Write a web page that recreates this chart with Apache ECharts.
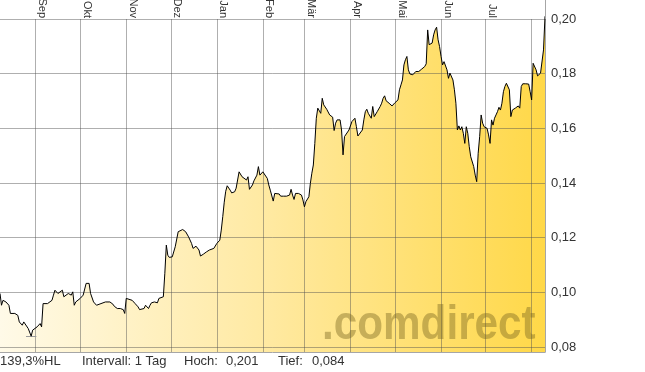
<!DOCTYPE html>
<html>
<head>
<meta charset="utf-8">
<script src="https://cdn.jsdelivr.net/npm/echarts@6/dist/echarts.min.js"></script>
<style>
html,body{margin:0;padding:0;background:#fff;}
#chart{width:645px;height:372px;}
</style>
</head>
<body>
<div id="chart"></div>
<script>
// ---- data ----
const dates = [
"2022-08-08","2022-08-09","2022-08-10","2022-08-12","2022-08-14","2022-08-15","2022-08-16","2022-08-18","2022-08-20","2022-08-21",
"2022-08-23","2022-08-24","2022-08-25","2022-08-27","2022-08-28","2022-08-29","2022-08-30","2022-09-02","2022-09-03","2022-09-04",
"2022-09-05","2022-09-06","2022-09-07","2022-09-09","2022-09-10","2022-09-12","2022-09-13","2022-09-14","2022-09-16","2022-09-17",
"2022-09-19","2022-09-20","2022-09-21","2022-09-23","2022-09-25","2022-09-26","2022-09-27","2022-09-28","2022-09-29","2022-10-01",
"2022-10-02","2022-10-03","2022-10-04","2022-10-05","2022-10-07","2022-10-08","2022-10-10","2022-10-12","2022-10-13","2022-10-15",
"2022-10-16","2022-10-18","2022-10-19","2022-10-21","2022-10-23","2022-10-24","2022-10-26","2022-10-28","2022-10-30","2022-10-31",
"2022-11-01","2022-11-02","2022-11-05","2022-11-07","2022-11-09","2022-11-10","2022-11-11","2022-11-13","2022-11-14","2022-11-15",
"2022-11-16","2022-11-17","2022-11-18","2022-11-19","2022-11-20","2022-11-22","2022-11-23","2022-11-24","2022-11-26","2022-11-27",
"2022-11-28","2022-11-29","2022-11-30","2022-12-02","2022-12-04","2022-12-06","2022-12-07","2022-12-09","2022-12-11","2022-12-13",
"2022-12-15","2022-12-16","2022-12-18","2022-12-19","2022-12-20","2022-12-21","2022-12-23","2022-12-25","2022-12-27","2022-12-30",
"2023-01-01","2023-01-03","2023-01-04","2023-01-05","2023-01-06","2023-01-07","2023-01-08","2023-01-09","2023-01-10","2023-01-11",
"2023-01-13","2023-01-14","2023-01-16","2023-01-18","2023-01-19","2023-01-21","2023-01-22","2023-01-23","2023-01-25","2023-01-26",
"2023-01-28","2023-01-29","2023-01-30","2023-01-31","2023-02-01","2023-02-04","2023-02-05","2023-02-06","2023-02-08","2023-02-09",
"2023-02-10","2023-02-12","2023-02-13","2023-02-15","2023-02-17","2023-02-19","2023-02-20","2023-02-21","2023-02-22","2023-02-23",
"2023-02-25","2023-02-27","2023-02-28","2023-03-01","2023-03-02","2023-03-04","2023-03-05","2023-03-06","2023-03-07","2023-03-08",
"2023-03-09","2023-03-10","2023-03-11","2023-03-12","2023-03-13","2023-03-14","2023-03-16","2023-03-18","2023-03-20","2023-03-21",
"2023-03-22","2023-03-23","2023-03-25","2023-03-26","2023-03-27","2023-03-28","2023-03-31","2023-04-02","2023-04-04","2023-04-05",
"2023-04-06","2023-04-07","2023-04-09","2023-04-10","2023-04-11","2023-04-12","2023-04-13","2023-04-15","2023-04-16","2023-04-17",
"2023-04-18","2023-04-19","2023-04-21","2023-04-22","2023-04-23","2023-04-24","2023-04-25","2023-04-27","2023-04-28","2023-04-29",
"2023-04-30","2023-05-01","2023-05-03","2023-05-04","2023-05-05","2023-05-06","2023-05-07","2023-05-08","2023-05-09","2023-05-10",
"2023-05-11","2023-05-13","2023-05-14","2023-05-15","2023-05-16","2023-05-17","2023-05-19","2023-05-21","2023-05-22","2023-05-23",
"2023-05-24","2023-05-25","2023-05-26","2023-05-27","2023-05-28","2023-05-29","2023-05-30","2023-05-31","2023-06-01","2023-06-02",
"2023-06-03","2023-06-04","2023-06-05","2023-06-06","2023-06-07","2023-06-08","2023-06-09","2023-06-10","2023-06-11","2023-06-12",
"2023-06-13","2023-06-14","2023-06-15","2023-06-16","2023-06-17","2023-06-18","2023-06-19","2023-06-20","2023-06-21","2023-06-23",
"2023-06-24","2023-06-25","2023-06-26","2023-06-27","2023-06-28","2023-06-29","2023-06-30","2023-07-01","2023-07-02","2023-07-03",
"2023-07-04","2023-07-05","2023-07-06","2023-07-07","2023-07-08","2023-07-09","2023-07-10","2023-07-11","2023-07-12","2023-07-13",
"2023-07-14","2023-07-15","2023-07-16","2023-07-17","2023-07-18","2023-07-19","2023-07-20","2023-07-21","2023-07-23","2023-07-24",
"2023-07-25","2023-07-26","2023-07-28","2023-07-30","2023-07-31","2023-08-01","2023-08-02","2023-08-03","2023-08-04","2023-08-05",
"2023-08-07","2023-08-08","2023-08-09","2023-08-10"
];
const prices = [
0.0996,0.0953,0.0971,0.0965,0.0953,0.0923,0.0916,0.0923,0.0916,0.0892,
0.0880,0.0892,0.0886,0.0868,0.0862,0.0840,0.0862,0.0874,0.0880,0.0886,
0.0874,0.0959,0.0965,0.0959,0.0953,0.0971,0.0990,0.1008,0.0996,0.0990,
0.1008,0.0984,0.0990,0.0996,0.0990,0.1002,0.0953,0.0965,0.0971,0.0978,
0.0984,0.0990,0.0996,0.1033,0.1033,0.0996,0.0965,0.0953,0.0953,0.0959,
0.0965,0.0965,0.0971,0.0965,0.0957,0.0949,0.0941,0.0941,0.0937,0.0923,
0.0978,0.0981,0.0971,0.0959,0.0947,0.0937,0.0932,0.0941,0.0953,0.0959,
0.0941,0.0953,0.0962,0.0959,0.0965,0.0962,0.0978,0.0981,0.0984,0.1070,
0.1173,0.1136,0.1128,0.1130,0.1167,0.1222,0.1228,0.1230,0.1222,0.1203,
0.1179,0.1161,0.1169,0.1169,0.1155,0.1133,0.1140,0.1148,0.1155,0.1161,
0.1179,0.1191,0.1228,0.1277,0.1330,0.1370,0.1390,0.1393,0.1374,0.1364,
0.1368,0.1381,0.1441,0.1423,0.1417,0.1411,0.1423,0.1377,0.1393,0.1408,
0.1429,0.1460,0.1429,0.1423,0.1441,0.1417,0.1393,0.1374,0.1334,0.1362,
0.1356,0.1360,0.1352,0.1352,0.1352,0.1356,0.1377,0.1356,0.1340,0.1362,
0.1362,0.1356,0.1338,0.1313,0.1332,0.1350,0.1399,0.1436,0.1466,0.1545,
0.1637,0.1674,0.1680,0.1655,0.1710,0.1686,0.1670,0.1649,0.1641,0.1592,
0.1619,0.1631,0.1631,0.1594,0.1503,0.1570,0.1594,0.1625,0.1637,0.1606,
0.1572,0.1576,0.1594,0.1631,0.1661,0.1670,0.1655,0.1637,0.1680,0.1643,
0.1643,0.1661,0.1680,0.1692,0.1710,0.1719,0.1701,0.1692,0.1686,0.1682,
0.1686,0.1694,0.1704,0.1741,0.1759,0.1777,0.1832,0.1851,0.1863,0.1814,
0.1799,0.1796,0.1792,0.1808,0.1802,0.1808,0.1817,0.1826,0.1836,0.1960,
0.1906,0.1899,0.1912,0.1942,0.1960,0.1970,0.1924,0.1899,0.1863,0.1832,
0.1844,0.1851,0.1814,0.1783,0.1802,0.1808,0.1777,0.1741,0.1692,0.1594,
0.1609,0.1594,0.1606,0.1582,0.1545,0.1606,0.1582,0.1533,0.1496,0.1460,
0.1429,0.1405,0.1509,0.1570,0.1649,0.1619,0.1606,0.1609,0.1600,0.1576,
0.1545,0.1631,0.1612,0.1637,0.1649,0.1661,0.1677,0.1667,0.1692,0.1734,
0.1753,0.1765,0.1771,0.1741,0.1643,0.1667,0.1670,0.1674,0.1682,0.1674,
0.1753,0.1763,0.1763,0.1762,0.1734,0.1704,0.1838,0.1841,0.1814,0.1792,
0.1802,0.1808,0.1887,0.2010
];
const rangeStart = "2022-08-08";
const rangeEnd = "2023-08-10";
const monthStarts = ["2022-09-01","2022-10-01","2022-11-01","2022-12-01","2023-01-01","2023-02-01","2023-03-01","2023-04-01","2023-05-01","2023-06-01","2023-07-01","2023-08-01"];
const monthLabels = ["Sep","Okt","Nov","Dez","Jan","Feb","Mär","Apr","Mai","Jun","Jul"];
const yTicks = [0.08,0.10,0.12,0.14,0.16,0.18,0.20];
const perfText = "139,3%HL";
const intervalText = "Intervall: 1 Tag";
const highValue = 0.201;
const lowValue = 0.084;
const watermark = ".comdirect";

// ---- helpers ----
function toMs(s){ const p=s.split('-').map(Number); return new Date(p[0],p[1]-1,p[2]).getTime(); }
const DAY = 86400000;
const fmt = (v,d)=>v.toFixed(d).replace('.',',');
const seriesData = dates.map((d,i)=>[toMs(d), prices[i]]);
const tickMs = monthStarts.map(toMs);
const labelMs = monthStarts.slice(0, monthLabels.length).map(s=>toMs(s)+4.5*DAY);
function labelFor(v){
  let best=-1, bd=Infinity;
  labelMs.forEach((m,i)=>{ const d=Math.abs(m-v); if(d<bd){bd=d;best=i;} });
  return bd < DAY ? monthLabels[best] : '';
}

let minIdx = 0, maxIdx = 0;
prices.forEach((v,i)=>{ if(v<prices[minIdx]) minIdx=i; if(v>prices[maxIdx]) maxIdx=i; });
const minX = toMs(dates[minIdx]), maxX = toMs(dates[maxIdx]);

const gridColor = 'rgba(80,80,80,0.46)';
const font = '"Liberation Sans", Arial, sans-serif';
const chart = echarts.init(document.getElementById('chart'), null, {renderer:'canvas'});
chart.setOption({
  animation:false,
  backgroundColor:'#ffffff',
  grid:{left:0,right:100,top:19,bottom:20,containLabel:false,outerBoundsMode:'none'},
  xAxis:[{
    type:'value', position:'top', min:toMs(rangeStart), max:toMs(rangeEnd), z:3,
    axisLine:{show:false},
    axisTick:{show:false, customValues:tickMs},
    splitLine:{show:true, lineStyle:{color:gridColor,width:1}},
    axisLabel:{show:true, customValues:labelMs, rotate:90, margin:1, fontSize:11,
      fontFamily:font, color:'#333', formatter:(v)=>labelFor(v)}
  },{
    type:'value', position:'bottom', min:toMs(rangeStart), max:toMs(rangeEnd), z:3,
    axisLine:{show:true, lineStyle:{color:'#a6a6a6',width:1}},
    axisTick:{show:false}, axisLabel:{show:false}, splitLine:{show:false}
  }],
  yAxis:{
    type:'value', position:'right', min:0.0782, max:0.20, z:3,
    axisLine:{show:true, lineStyle:{color:'#a6a6a6',width:1}},
    axisTick:{show:false, customValues:yTicks},
    splitLine:{show:true, lineStyle:{color:gridColor,width:1}},
    axisLabel:{customValues:yTicks, margin:6, fontSize:13, color:'#333',
      fontFamily:font, formatter:(v)=>fmt(v,2)}
  },
  series:[{
    type:'line', data:seriesData, showSymbol:false, z:1,
    lineStyle:{width:0,opacity:0},
    areaStyle:{origin:'start', opacity:1, color:new echarts.graphic.LinearGradient(0,0,1,0,[
      {offset:0,color:'#fffae8'},{offset:0.5,color:'#ffe9a0'},{offset:1,color:'#ffd848'}])}
  },{
    type:'line', data:seriesData, showSymbol:false, z:5, clip:false,
    lineStyle:{color:'#000',width:1},
    markLine:{silent:true, symbol:['none','none'], label:{show:false},
      lineStyle:{type:'solid',width:1},
      data:[
        [{coord:[minX-3.5*DAY, lowValue], lineStyle:{color:'#9a9a9a'}},{coord:[minX+3.5*DAY, lowValue]}],
        [{coord:[maxX-2*DAY, highValue], lineStyle:{color:'#555'}},{coord:[maxX+2.5*DAY, highValue]}]
      ]}
  }],
  graphic:[
    {type:'line', shape:{x1:545.5,y1:0,x2:545.5,y2:19}, style:{stroke:'#a6a6a6',lineWidth:1}, z:10},
    {type:'text', x:322, y:302, scaleX:0.88, z:8, silent:true,
      style:{text:watermark, font:'bold 48px '+font, fill:'rgba(120,100,30,0.42)'}},
    {type:'text', x:0, y:361, style:{text:perfText, font:'13px '+font, fill:'#333', textVerticalAlign:'middle'}},
    {type:'text', x:82, y:361, style:{text:intervalText, font:'13px '+font, fill:'#333', textVerticalAlign:'middle'}},
    {type:'text', x:184, y:361, style:{text:'Hoch:', font:'13px '+font, fill:'#333', textVerticalAlign:'middle'}},
    {type:'text', x:226, y:361, style:{text:fmt(highValue,3), font:'13px '+font, fill:'#333', textVerticalAlign:'middle'}},
    {type:'text', x:278, y:361, style:{text:'Tief:', font:'13px '+font, fill:'#333', textVerticalAlign:'middle'}},
    {type:'text', x:312, y:361, style:{text:fmt(lowValue,3), font:'13px '+font, fill:'#333', textVerticalAlign:'middle'}}
  ]
});
</script>
</body>
</html>
